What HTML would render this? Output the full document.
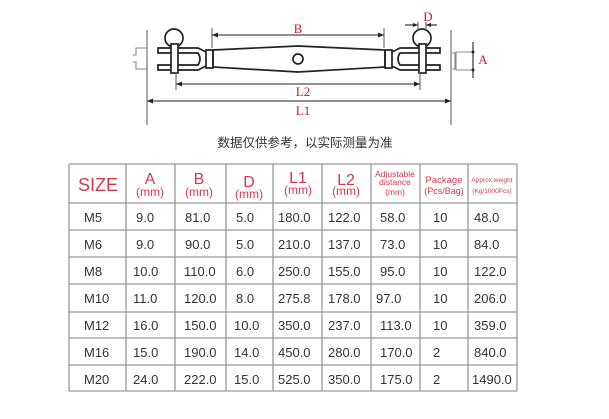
<!DOCTYPE html>
<html><head><meta charset="utf-8"><style>
html,body{margin:0;padding:0;background:#fff;width:609px;height:419px;overflow:hidden}
svg{display:block}
text{font-family:"Liberation Sans","Noto Sans CJK SC",sans-serif}
</style></head><body>
<svg width="609" height="419" viewBox="0 0 609 419" xmlns="http://www.w3.org/2000/svg">
<g stroke="#222" fill="none" stroke-width="1.1">
<line x1="147" y1="30" x2="147" y2="125" stroke="#666"/>
<line x1="451" y1="30" x2="451" y2="125" stroke="#666"/>
<path d="M147 48 H136 V55 H133 M147 69 H136 V62 H133" stroke="#888"/>
<line x1="212" y1="28" x2="212" y2="48" stroke="#666"/>
<line x1="384" y1="28" x2="384" y2="48" stroke="#666"/>
<line x1="212" y1="35" x2="384" y2="35"/>
<path d="M213 50 L298 46 L385 50 L385 67 L298 72 L213 67 Z" fill="#fff" stroke-width="1.7"/>
<circle cx="298" cy="59" r="5" stroke-width="1.7"/>
<rect x="206" y="50" width="7" height="18" stroke-width="1.7"/>
<rect x="385" y="50" width="7" height="18" stroke-width="1.7"/>
<path d="M206 52 L198 48 H158 V53 H198 Q202 59 198 65 H158 V70 H198 L206 66" stroke-width="1.7"/>
<circle cx="174" cy="38" r="9" stroke-width="1.7" fill="#fff"/>
<rect x="171" y="44" width="7" height="29" fill="#fff" stroke-width="1.7"/>
<path d="M392 52 L400 48 H440 V53 H400 Q396 59 400 65 H440 V70 H400 L392 66" stroke-width="1.7"/>
<circle cx="422" cy="38" r="9" stroke-width="1.7" fill="#fff"/>
<rect x="419" y="44" width="7" height="29" fill="#fff" stroke-width="1.7"/>
<line x1="405" y1="25" x2="418" y2="25"/><line x1="426" y1="25" x2="437" y2="25"/>
<line x1="418" y1="22" x2="418" y2="30" stroke="#666"/><line x1="426" y1="22" x2="426" y2="30" stroke="#666"/>
<line x1="176" y1="72" x2="176" y2="90" stroke="#666"/>
<line x1="420" y1="72" x2="420" y2="90" stroke="#666"/>
<line x1="176" y1="84" x2="420" y2="84"/>
<line x1="147" y1="101" x2="451" y2="101"/>
<path d="M473 52 H456 V70 H473 M452 53 H455 V69 H452" stroke="#888"/>
<line x1="473" y1="42" x2="473" y2="78"/>
</g>
<g fill="#222">
<circle cx="473" cy="52" r="1.5"/><circle cx="473" cy="70" r="1.5"/>
<path d="M212 35 l6 -2.5 v5z M384 35 l-6 -2.5 v5z M176 84 l6 -2.5 v5z M420 84 l-6 -2.5 v5z M147 101 l6 -2.5 v5z M451 101 l-6 -2.5 v5z M418 25 l-5 -2 v4z M426 25 l5 -2 v4z"/>
</g>
<g fill="#c8202c" font-size="13" text-anchor="middle">
<text x="298" y="33" style="font-family:'Liberation Serif',serif">B</text>
<text x="428" y="21" style="font-family:'Liberation Serif',serif">D</text>
<text x="303" y="96" style="font-family:'Liberation Serif',serif">L2</text>
<text x="303" y="115" style="font-family:'Liberation Serif',serif">L1</text>
<text x="483" y="64" style="font-family:'Liberation Serif',serif">A</text>
</g>
<text x="305" y="147" font-size="12.5" fill="#333" text-anchor="middle">数据仅供参考，以实际测量为准</text>
<g stroke="#999" stroke-width="1.3">
<line x1="69" y1="164" x2="517" y2="164"/>
<line x1="69" y1="203" x2="517" y2="203"/>
<line x1="69" y1="230" x2="517" y2="230"/>
<line x1="69" y1="257" x2="517" y2="257"/>
<line x1="69" y1="284" x2="517" y2="284"/>
<line x1="69" y1="312" x2="517" y2="312"/>
<line x1="69" y1="338" x2="517" y2="338"/>
<line x1="69" y1="365" x2="517" y2="365"/>
<line x1="69" y1="391" x2="517" y2="391"/>
<line x1="69" y1="164" x2="69" y2="391"/>
<line x1="126" y1="164" x2="126" y2="391"/>
<line x1="175" y1="164" x2="175" y2="391"/>
<line x1="226" y1="164" x2="226" y2="391"/>
<line x1="273" y1="164" x2="273" y2="391"/>
<line x1="322" y1="164" x2="322" y2="391"/>
<line x1="371" y1="164" x2="371" y2="391"/>
<line x1="420" y1="164" x2="420" y2="391"/>
<line x1="468" y1="164" x2="468" y2="391"/>
<line x1="517" y1="164" x2="517" y2="391"/>
</g>
<g fill="#d23a48" text-anchor="middle">
<text x="98" y="191" font-size="18">SIZE</text>
<text x="150" y="184" font-size="16">A</text><text x="150" y="196" font-size="12">(mm)</text>
<text x="199" y="184" font-size="16">B</text><text x="199" y="196" font-size="12">(mm)</text>
<text x="249" y="187" font-size="16">D</text><text x="249" y="198" font-size="12">(mm)</text>
<text x="298" y="183" font-size="16">L1</text><text x="298" y="194" font-size="12">(mm)</text>
<text x="346" y="185" font-size="16">L2</text><text x="346" y="195" font-size="12">(mm)</text>
<text x="395" y="177" font-size="8.5">Adjustable</text>
<text x="395" y="185" font-size="8.5">distance</text>
<text x="395" y="195" font-size="8.5">(mm)</text>
<text x="444" y="183" font-size="9.5">Package</text>
<text x="444" y="194" font-size="9">(Pcs/Bag)</text>
<text x="492" y="182" font-size="6.5">Approx.weight</text>
<text x="492" y="193" font-size="6.5">(Kg/1000Pcs)</text>
</g>
<g fill="#333" font-size="13">
<g transform="translate(0,222)"><text x="84">M5</text><text x="136">9.0</text><text x="185">81.0</text><text x="236">5.0</text><text x="278">180.0</text><text x="328">122.0</text><text x="380">58.0</text><text x="433">10</text><text x="474">48.0</text></g>
<g transform="translate(0,249)"><text x="84">M6</text><text x="136">9.0</text><text x="185">90.0</text><text x="236">5.0</text><text x="278">210.0</text><text x="328">137.0</text><text x="380">73.0</text><text x="433">10</text><text x="474">84.0</text></g>
<g transform="translate(0,276)"><text x="84">M8</text><text x="133">10.0</text><text x="184">110.0</text><text x="236">6.0</text><text x="278">250.0</text><text x="328">155.0</text><text x="380">95.0</text><text x="433">10</text><text x="474">122.0</text></g>
<g transform="translate(0,303)"><text x="84">M10</text><text x="133">11.0</text><text x="184">120.0</text><text x="236">8.0</text><text x="278">275.8</text><text x="328">178.0</text><text x="376">97.0</text><text x="433">10</text><text x="474">206.0</text></g>
<g transform="translate(0,330)"><text x="84">M12</text><text x="133">16.0</text><text x="184">150.0</text><text x="234">10.0</text><text x="278">350.0</text><text x="328">237.0</text><text x="380">113.0</text><text x="433">10</text><text x="474">359.0</text></g>
<g transform="translate(0,357)"><text x="84">M16</text><text x="133">15.0</text><text x="184">190.0</text><text x="234">14.0</text><text x="278">450.0</text><text x="328">280.0</text><text x="380">170.0</text><text x="433">2</text><text x="474">840.0</text></g>
<g transform="translate(0,384)"><text x="84">M20</text><text x="133">24.0</text><text x="184">222.0</text><text x="234">15.0</text><text x="278">525.0</text><text x="328">350.0</text><text x="380">175.0</text><text x="433">2</text><text x="472">1490.0</text></g>
</g>
</svg>
</body></html>
